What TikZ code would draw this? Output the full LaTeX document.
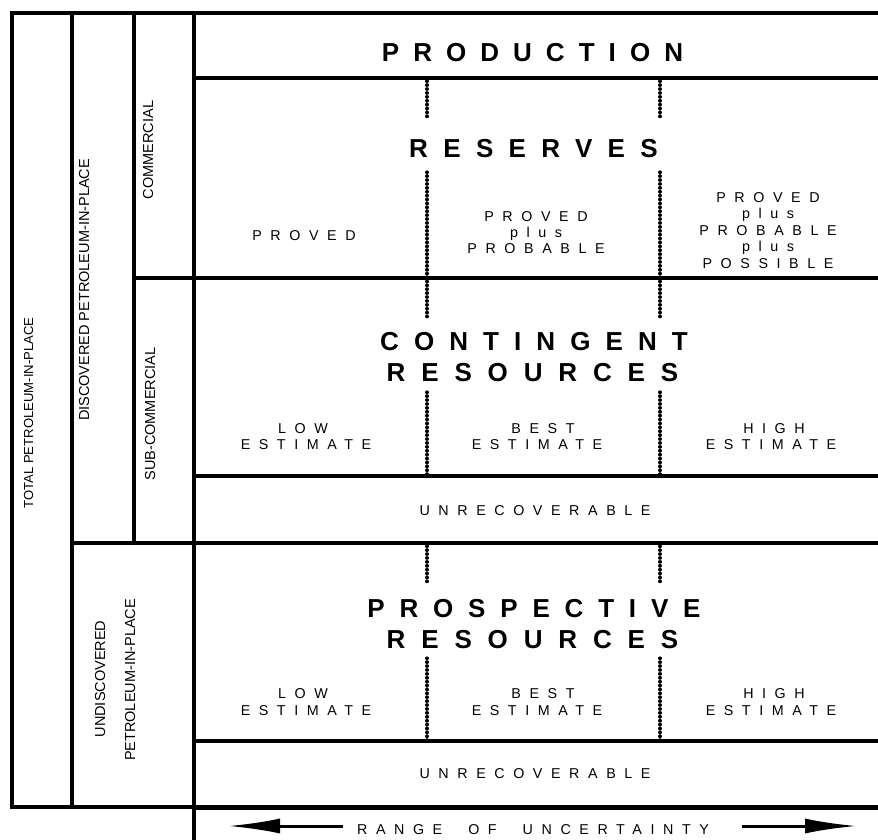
\documentclass[tikz,border=0pt]{standalone}
\usepackage{fontspec}
\setmainfont{Liberation Sans}
\usetikzlibrary{arrows.meta}
% letter-spaced text
\newcommand{\spaced}[2]{{\addfontfeature{LetterSpace=#1}#2}}
\newcommand{\wsp}{\hspace{26pt}}
\begin{document}
\begin{tikzpicture}[x=1pt,y=-1pt,
  rule/.style={line width=3.5pt, line cap=rect},
  heavyrule/.style={line width=5pt},
  dots/.style={line width=3.2pt, line cap=round, dash pattern=on 0.5pt off 3.4pt},
  small/.style={anchor=base, inner sep=0pt, font=\fontsize{14.3}{16.5}\selectfont},
  big/.style={anchor=base, inner sep=0pt, font=\fontsize{26}{31}\selectfont\bfseries},
  side/.style={anchor=base, inner sep=0pt, rotate=90, font=\fontsize{14.5}{16.5}\selectfont},
  uarrow/.style={line width=3pt, -{Latex[length=52pt,width=15pt]}}]
\useasboundingbox (0,0) rectangle (878,839);

% ---- frame and grid ----
\draw[rule] (878,13) -- (12,13) -- (12,807) -- (194,807);
\draw[heavyrule] (194,807.5) -- (878,807.5);
\draw[rule] (72,13) -- (72,807);
\draw[rule] (134,13) -- (134,543);
\draw[rule] (194,13) -- (194,839);
\draw[rule] (194,78) -- (878,78);
\draw[rule] (134,278) -- (878,278);
\draw[rule] (194,476) -- (878,476);
\draw[rule] (72,543) -- (878,543);
\draw[rule] (194,741) -- (878,741);

% ---- uncertainty dividers ----
\foreach \x in {427,660}{
  \draw[dots] (\x,81) -- (\x,117);
  \draw[dots] (\x,172) -- (\x,318);
  \draw[dots] (\x,392) -- (\x,476);
  \draw[dots] (\x,546) -- (\x,582);
  \draw[dots] (\x,658) -- (\x,741);
}

% ---- side labels ----
\node[side, font=\fontsize{13.1}{15}\selectfont] (total) at (33,413) {TOTAL PETROLEUM-IN-PLACE};
\node[side] (disc) at (89,290) {DISCOVERED PETROLEUM-IN-PLACE};
\node[side] (comm) at (153,150) {COMMERCIAL};
\node[side] (subcomm) at (155,414) {SUB-COMMERCIAL};
\node[side] (undisc1) at (105,679) {UNDISCOVERED};
\node[side] (undisc2) at (135,680) {PETROLEUM-IN-PLACE};

% ---- production and reserves ----
\node[big] (prod) at (532.5,61) {\spaced{54}{PRODUCTION}};
\node[big] (res) at (533.5,157) {\spaced{59}{RESERVES}};
\node[small] (p1) at (304,240) {\spaced{60}{PROVED}};
\node[small] (pp1) at (536,221) {\spaced{60}{PROVED}};
\node[small] (pp2) at (536,237) {\spaced{60}{plus}};
\node[small] (pp3) at (536,253) {\spaced{60}{PROBABLE}};
\node[small] (ppp1) at (768,202) {\spaced{60}{PROVED}};
\node[small] (ppp2) at (768,218.5) {\spaced{60}{plus}};
\node[small] (ppp3) at (768,235) {\spaced{60}{PROBABLE}};
\node[small] (ppp4) at (768,251.5) {\spaced{60}{plus}};
\node[small] (ppp5) at (768,268) {\spaced{60}{POSSIBLE}};

% ---- contingent resources ----
\node[big] (cont1) at (534,350) {\spaced{58}{CONTINGENT}};
\node[big] (cont2) at (532.5,381) {\spaced{61}{RESOURCES}};
\node[small] (cl1) at (303,433) {\spaced{60}{LOW}};
\node[small] (cl2) at (306,449) {\spaced{60}{ESTIMATE}};
\node[small] (cb1) at (543,433) {\spaced{60}{BEST}};
\node[small] (cb2) at (537,449) {\spaced{60}{ESTIMATE}};
\node[small] (ch1) at (774,433) {\spaced{60}{HIGH}};
\node[small] (ch2) at (771,449) {\spaced{60}{ESTIMATE}};
\node[small] (unrec1) at (535,515) {\spaced{60}{UNRECOVERABLE}};

% ---- prospective resources ----
\node[big] (pros1) at (534,617) {\spaced{57}{PROSPECTIVE}};
\node[big] (pros2) at (532.5,648) {\spaced{61}{RESOURCES}};
\node[small] (pl1) at (303,698) {\spaced{60}{LOW}};
\node[small] (pl2) at (306,715) {\spaced{60}{ESTIMATE}};
\node[small] (pb1) at (543,698) {\spaced{60}{BEST}};
\node[small] (pb2) at (537,715) {\spaced{60}{ESTIMATE}};
\node[small] (ph1) at (774,698) {\spaced{60}{HIGH}};
\node[small] (ph2) at (771,715) {\spaced{60}{ESTIMATE}};
\node[small] (unrec2) at (535,778) {\spaced{60}{UNRECOVERABLE}};

% ---- range of uncertainty ----
\node[small] (range) at (533,834) {\spaced{60}{RANGE}\wsp\spaced{60}{OF}\wsp\spaced{60}{UNCERTAINTY}};
\coordinate (aL0) at (343,826);
\coordinate (aL1) at (228,826);
\coordinate (aR0) at (742,826);
\coordinate (aR1) at (857,826);
\draw[uarrow] (aL0) -- (aL1);
\draw[uarrow] (aR0) -- (aR1);
\end{tikzpicture}
\end{document}
